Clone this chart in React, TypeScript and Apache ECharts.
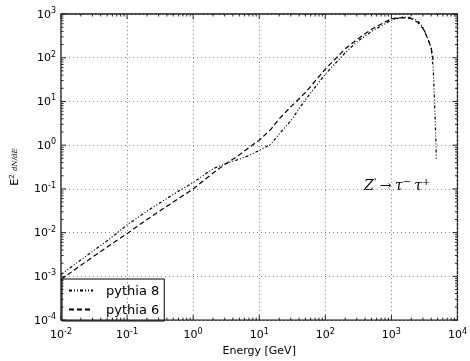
import React, { useEffect, useRef } from "react";
import * as echarts from "echarts";

const energies8 = [0.01, 0.02, 0.05, 0.1, 0.2, 0.5, 1, 2, 3, 5, 7, 10, 15, 20, 30, 50, 100, 200, 300, 500, 1000, 1500, 2000, 2500, 3000, 3500, 4000, 4300, 4500, 4700, 4800];
const pythia8 = [1.1e-3, 2.4e-3, 6.5e-3, 0.015, 0.031, 0.075, 0.14, 0.29, 0.37, 0.48, 0.58, 0.76, 1.05, 1.8, 3.6, 11, 42, 130, 230, 400, 720, 860, 830, 700, 500, 300, 160, 60, 10, 1.5, 0.45];
const energies6 = [0.01, 0.02, 0.05, 0.1, 0.2, 0.5, 1, 2, 3, 5, 7.8, 10, 15, 20, 30, 50, 100, 200, 300, 500, 1000, 1500, 2000, 2500, 3000, 3500, 4000, 4300];
const pythia6 = [0.85e-3, 1.8e-3, 4.7e-3, 0.0095, 0.02, 0.05, 0.1, 0.23, 0.36, 0.6, 1.0, 1.3, 2.3, 4, 7.5, 16, 55, 160, 260, 450, 780, 830, 780, 650, 470, 290, 170, 90];

const xTickExps = [-2, -1, 0, 1, 2, 3, 4];
const yTickExps = [-4, -3, -2, -1, 0, 1, 2, 3];
const minorMultipliers = [2, 3, 4, 5, 6, 7, 8, 9];

const X_MIN = 1e-2, X_MAX = 1e4, Y_MIN = 1e-4, Y_MAX = 1e3;
const FONT = "DejaVu Sans";

function expLabel(v: number) {
  const e = Math.round(Math.log10(v));
  return `{b|10}{s|${e}}`;
}

const labelRich = {
  b: { fontSize: 11, fontFamily: FONT, color: "#000" },
  s: { fontSize: 8, fontFamily: FONT, color: "#000", verticalAlign: "top", padding: [0, 0, 7, 0] },
};

export default function App() {
  const ref = useRef<HTMLDivElement>(null);
  useEffect(() => {
    if (!ref.current) return;
    const chart = echarts.init(ref.current, null, { renderer: "svg" });

    const tickData: number[][] = [];
    xTickExps.forEach((e) => {
      tickData.push([Math.pow(10, e), Y_MIN, 0, 5]);
      if (e < 4) minorMultipliers.forEach((m) => tickData.push([m * Math.pow(10, e), Y_MIN, 0, 2.5]));
    });
    yTickExps.forEach((e) => {
      tickData.push([X_MIN, Math.pow(10, e), 1, 5]);
      if (e < 3) minorMultipliers.forEach((m) => tickData.push([X_MIN, m * Math.pow(10, e), 1, 2.5]));
    });

    chart.setOption({
      animation: false,
      grid: { left: 56, right: 8, top: 14, bottom: 33, show: true, borderColor: "#111", borderWidth: 1.3, backgroundColor: "transparent" },
      xAxis: {
        type: "log",
        min: X_MIN,
        max: X_MAX,
        logBase: 10,
        splitNumber: 6,
        axisLine: { show: false },
        axisTick: { show: false },
        axisLabel: { formatter: expLabel, rich: labelRich, margin: 7 },
        splitLine: { show: true, lineStyle: { type: [1, 3], color: "#888", width: 1 } },
        name: "Energy [GeV]",
        nameLocation: "middle",
        nameGap: 21,
        nameTextStyle: { fontFamily: FONT, fontSize: 11, color: "#000" },
      },
      yAxis: {
        type: "log",
        min: Y_MIN,
        max: Y_MAX,
        logBase: 10,
        splitNumber: 7,
        axisLine: { show: false },
        axisTick: { show: false },
        axisLabel: { formatter: expLabel, rich: labelRich, margin: 5 },
        splitLine: { show: true, lineStyle: { type: [1, 3], color: "#888", width: 1 } },
        name: "{e|E}{s|2} {f|dN/dE}",
        nameLocation: "middle",
        nameGap: 40,
        nameRotate: 90,
        nameTextStyle: {
          rich: {
            e: { fontFamily: FONT, fontSize: 11, color: "#000" },
            s: { fontFamily: FONT, fontSize: 7, color: "#000", verticalAlign: "top", padding: [0, 0, 6, 0] },
            f: { fontFamily: "DejaVu Serif", fontStyle: "italic", fontSize: 7, color: "#000" },
          },
        },
      },
      legend: {
        orient: "vertical",
        left: 62,
        top: 279,
        itemWidth: 24,
        itemHeight: 10,
        itemGap: 6,
        padding: [5, 5, 5, 6],
        borderColor: "#000",
        borderWidth: 1,
        borderRadius: 0,
        itemStyle: { opacity: 0, borderWidth: 0 },
        textStyle: { fontFamily: FONT, fontSize: 13, color: "#000", padding: [0, 0, 0, 8] },
        data: ["pythia 8", "pythia 6"],
      },
      graphic: [
        {
          type: "text",
          left: 364,
          top: 176,
          style: {
            text: "{i|Z}{p|'} {n|\u2192} {i|\u03c4}{s|\u2212} {i|\u03c4}{s|+}",
            rich: {
              i: { fontFamily: "DejaVu Serif", fontStyle: "italic", fontSize: 14, fill: "#000" },
              n: { fontFamily: "DejaVu Serif", fontSize: 14, fill: "#000" },
              p: { fontFamily: "DejaVu Serif", fontSize: 10, fill: "#000", verticalAlign: "top", padding: [0, 0, 8, 0] },
              s: { fontFamily: "DejaVu Serif", fontSize: 10, fill: "#000", verticalAlign: "top", padding: [0, 0, 8, 0] },
            },
          },
        },
      ],
      series: [
        {
          name: "pythia 8",
          type: "line",
          symbol: "none",
          data: energies8.map((x, i) => [x, pythia8[i]]),
          lineStyle: { color: "#000", width: 1.2, type: [3, 2, 1, 2, 1, 2] },
          itemStyle: { color: "#000" },
        },
        {
          name: "pythia 6",
          type: "line",
          symbol: "none",
          data: energies6.map((x, i) => [x, pythia6[i]]),
          lineStyle: { color: "#000", width: 1.2, type: [5, 3] },
          itemStyle: { color: "#000" },
        },
        {
          type: "custom",
          silent: true,
          z: 10,
          data: tickData,
          encode: { x: 0, y: 1 },
          renderItem: (params: any, api: any) => {
            const kind = api.value(2);
            const len = api.value(3);
            const style = { stroke: "#222", lineWidth: 1 };
            if (kind === 0) {
              const x = api.value(0);
              const pb = api.coord([x, Y_MIN]);
              const pt = api.coord([x, Y_MAX]);
              return {
                type: "group",
                children: [
                  { type: "line", shape: { x1: pb[0], y1: pb[1], x2: pb[0], y2: pb[1] - len }, style },
                  { type: "line", shape: { x1: pt[0], y1: pt[1], x2: pt[0], y2: pt[1] + len }, style },
                ],
              };
            }
            const y = api.value(1);
            const pl = api.coord([X_MIN, y]);
            const pr = api.coord([X_MAX, y]);
            return {
              type: "group",
              children: [
                { type: "line", shape: { x1: pl[0], y1: pl[1], x2: pl[0] + len, y2: pl[1] }, style },
                { type: "line", shape: { x1: pr[0], y1: pr[1], x2: pr[0] - len, y2: pr[1] }, style },
              ],
            };
          },
        },
      ],
    });
    return () => chart.dispose();
  }, []);
  return <div ref={ref} style={{ position: "fixed", left: 0, top: 0, width: 470, height: 361 }} />;
}
